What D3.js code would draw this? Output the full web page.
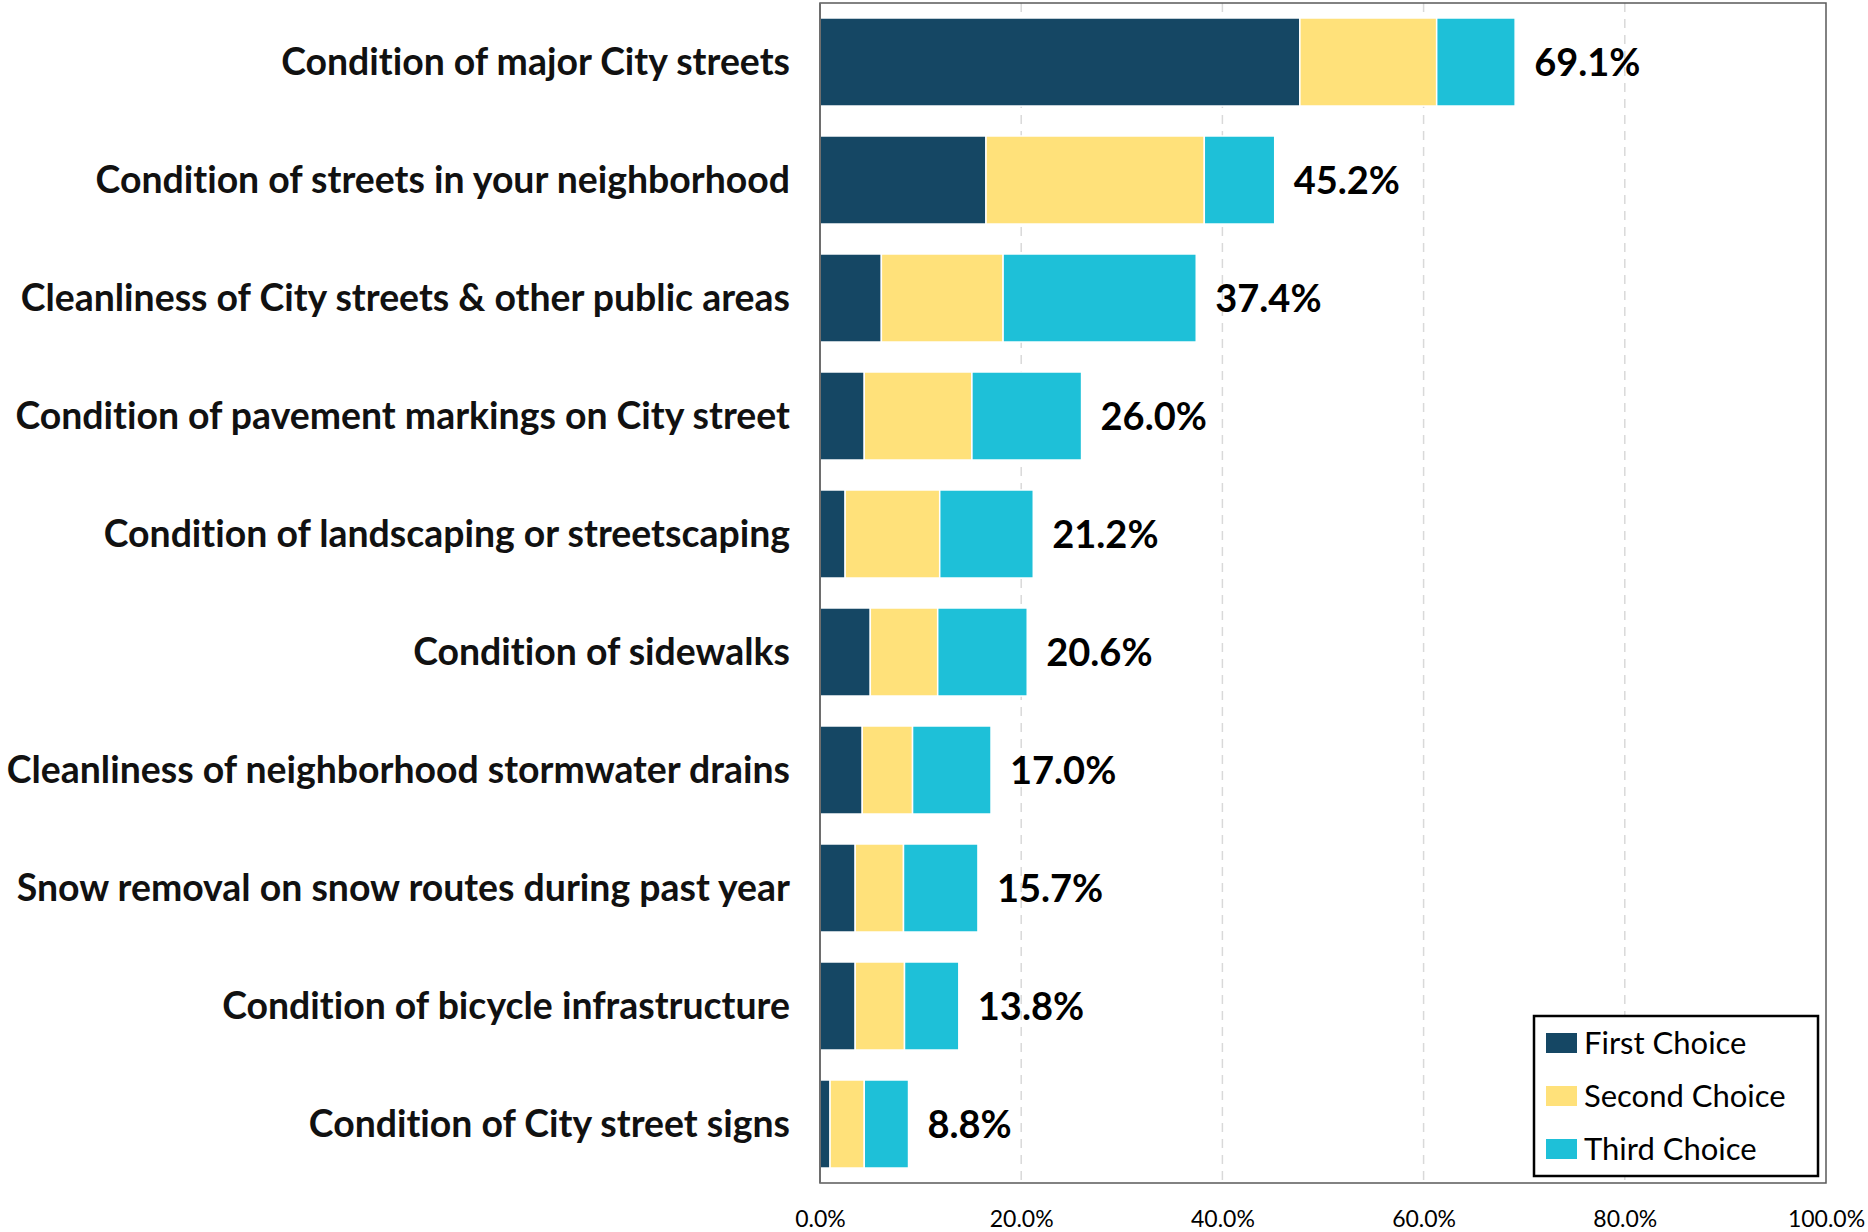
<!DOCTYPE html>
<html>
<head>
<meta charset="utf-8">
<script src="https://cdn.jsdelivr.net/npm/d3@7"></script>
<style>
  body { margin: 0; background: #fff; }
  svg { display: block; }
  text { font-variant-ligatures: none; }
</style>
</head>
<body>
<div id="chart"></div>
<script>
const categories = [
  'Condition of major City streets',
  'Condition of streets in your neighborhood',
  'Cleanliness of City streets & other public areas',
  'Condition of pavement markings on City street',
  'Condition of landscaping or streetscaping',
  'Condition of sidewalks',
  'Cleanliness of neighborhood stormwater drains',
  'Snow removal on snow routes during past year',
  'Condition of bicycle infrastructure',
  'Condition of City street signs'
];
const firstChoice = [47.7, 16.5, 6.1, 4.4, 2.5, 5.0, 4.2, 3.5, 3.5, 1.0];
const secondChoice = [13.6, 21.7, 12.1, 10.7, 9.4, 6.7, 5.0, 4.8, 4.9, 3.4];
const thirdChoice = [7.8, 7.0, 19.2, 10.9, 9.3, 8.9, 7.8, 7.4, 5.4, 4.4];
const totals = [69.1, 45.2, 37.4, 26.0, 21.2, 20.6, 17.0, 15.7, 13.8, 8.8];
const seriesNames = ['First Choice', 'Second Choice', 'Third Choice'];
const xTicks = [0, 20, 40, 60, 80, 100];

const colors = { 'First Choice': '#154764', 'Second Choice': '#ffe17a', 'Third Choice': '#1ec0d8' };

const width = 1868, height = 1232;
const plot = { left: 820, right: 1826, top: 3, bottom: 1183 };

const rows = categories.map((c, i) => ({
  category: c,
  'First Choice': firstChoice[i],
  'Second Choice': secondChoice[i],
  'Third Choice': thirdChoice[i],
  total: totals[i]
}));

const svg = d3.select('#chart').append('svg')
  .attr('width', width)
  .attr('height', height);

const x = d3.scaleLinear().domain([0, 100]).range([plot.left, plot.right]);
const y = d3.scaleBand().domain(categories)
  .range([plot.top, plot.bottom])
  .paddingInner(0.254)
  .paddingOuter(0.127);

// dashed gridlines
svg.append('g')
  .selectAll('line')
  .data(xTicks.filter(d => d > 0 && d < 100))
  .enter().append('line')
  .attr('x1', d => x(d)).attr('x2', d => x(d))
  .attr('y1', plot.top).attr('y2', plot.bottom)
  .attr('stroke', '#d9d9d9')
  .attr('stroke-width', 1.5)
  .attr('stroke-dasharray', '9,7');

// stacked bars
const stack = d3.stack().keys(seriesNames);
const layers = stack(rows);

svg.append('g')
  .selectAll('g')
  .data(layers)
  .enter().append('g')
  .attr('fill', d => colors[d.key])
  .selectAll('rect')
  .data(d => d)
  .enter().append('rect')
  .attr('x', d => x(d[0]))
  .attr('y', d => y(d.data.category))
  .attr('width', d => x(d[1]) - x(d[0]))
  .attr('height', y.bandwidth())
  .attr('stroke', '#fff')
  .attr('stroke-width', 1.5);

// plot frame
svg.append('rect')
  .attr('x', plot.left).attr('y', plot.top)
  .attr('width', plot.right - plot.left)
  .attr('height', plot.bottom - plot.top)
  .attr('fill', 'none')
  .attr('stroke', '#595959')
  .attr('stroke-width', 1.5);
svg.append('line')
  .attr('x1', plot.left).attr('x2', plot.left)
  .attr('y1', plot.top).attr('y2', plot.bottom)
  .attr('stroke', '#6e6e6e')
  .attr('stroke-width', 2);

// category labels
const labels = svg.append('g')
  .selectAll('text')
  .data(rows)
  .enter().append('text')
  .attr('x', plot.left - 30)
  .attr('y', d => y(d.category) + y.bandwidth() / 2)
  .attr('dy', '0.36em')
  .attr('text-anchor', 'end')
  .style('font-family', 'Lato, "Open Sans", sans-serif')
  .style('font-weight', 700)
  .style('font-size', '32px')
  .style('fill', '#111')
  .text(d => d.category);

// fit label size so the first label spans the same width as in the source
const measured = labels.node().getComputedTextLength();
labels.style('font-size', (32 * 509 / measured).toFixed(2) + 'px');

// total labels
svg.append('g')
  .selectAll('text')
  .data(rows)
  .enter().append('text')
  .attr('x', d => x(d.total) + 19)
  .attr('y', d => y(d.category) + y.bandwidth() / 2)
  .attr('dy', '0.36em')
  .style('font-family', 'Lato, "Open Sans", sans-serif')
  .style('font-weight', 700)
  .style('font-size', '38px')
  .style('fill', '#000')
  .text(d => d.total.toFixed(1) + '%');

// x axis labels
const xAxis = d3.axisBottom(x)
  .tickValues(xTicks)
  .tickFormat(d => d.toFixed(1) + '%')
  .tickSize(0)
  .tickPadding(28);

const axisG = svg.append('g')
  .attr('transform', `translate(0,${plot.bottom})`)
  .call(xAxis);
axisG.select('.domain').remove();
axisG.selectAll('text')
  .style('font-family', 'Lato, "Open Sans", sans-serif')
  .style('font-size', '23px')
  .style('fill', '#000');

// legend
const legend = svg.append('g').attr('transform', 'translate(1534,1016)');
legend.append('rect')
  .attr('width', 284).attr('height', 160)
  .attr('fill', '#fff')
  .attr('stroke', '#000')
  .attr('stroke-width', 2.5);

const item = legend.selectAll('g.item')
  .data(seriesNames)
  .enter().append('g')
  .attr('class', 'item')
  .attr('transform', (d, i) => `translate(12,${17 + i * 53})`);
item.append('rect')
  .attr('width', 31).attr('height', 20)
  .attr('fill', d => colors[d]);
item.append('text')
  .attr('x', 38)
  .attr('y', 10)
  .attr('dy', '0.36em')
  .style('font-family', 'Lato, "Open Sans", sans-serif')
  .style('font-size', '31px')
  .style('fill', '#000')
  .text(d => d);
</script>
</body>
</html>
